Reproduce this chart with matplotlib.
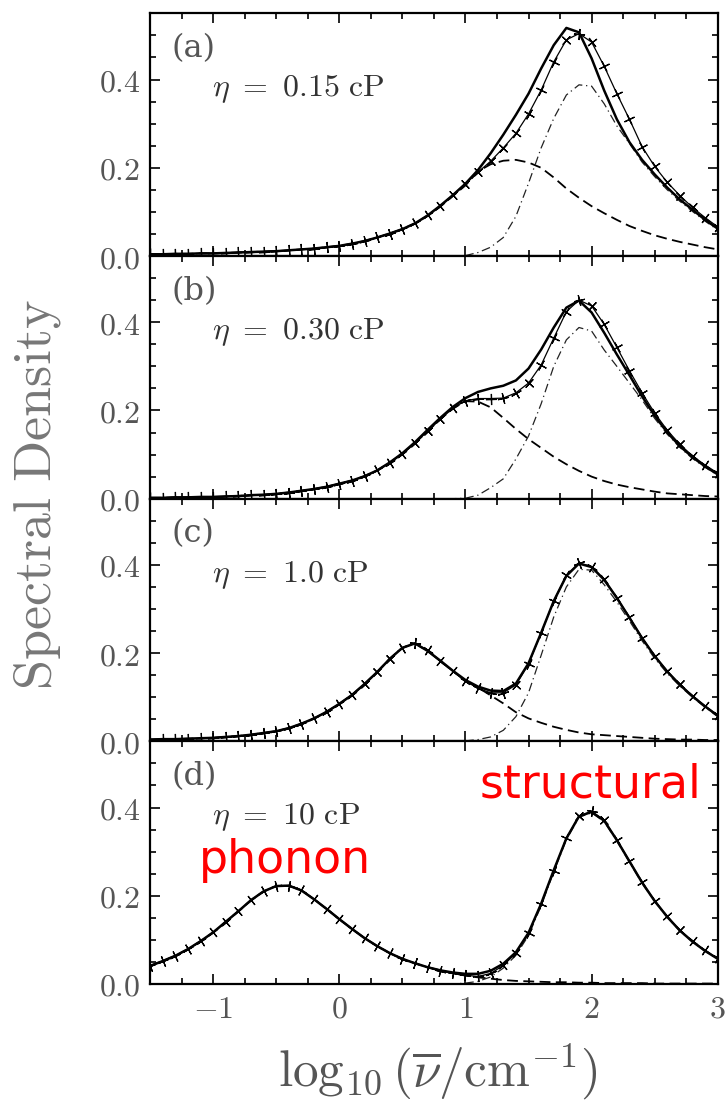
import numpy as np
import matplotlib
matplotlib.use("Agg")
import matplotlib.pyplot as plt
from matplotlib.ticker import MultipleLocator, FuncFormatter

# log10 of wavenumber, same grid for every curve (one "+" per point)
x = np.round(np.arange(-1.5, 3.001, 0.1), 2)

# (a) eta = 0.15 cP
total_a = [0.004, 0.004, 0.005, 0.005, 0.006, 0.006, 0.007, 0.008, 0.009, 0.010,
           0.011, 0.013, 0.015, 0.017, 0.020, 0.023, 0.028, 0.034, 0.042, 0.051,
           0.061, 0.074, 0.092, 0.114, 0.138, 0.164, 0.195, 0.233, 0.275, 0.320,
           0.368, 0.425, 0.478, 0.517, 0.507, 0.448, 0.375, 0.310, 0.258, 0.218,
           0.185, 0.155, 0.128, 0.105, 0.082, 0.062]
sim_a = [0.004, 0.004, 0.005, 0.005, 0.006, 0.006, 0.007, 0.008, 0.009, 0.010,
         0.011, 0.013, 0.015, 0.017, 0.020, 0.023, 0.028, 0.034, 0.042, 0.051,
         0.061, 0.074, 0.092, 0.114, 0.138, 0.164, 0.190, 0.215, 0.245, 0.278,
         0.322, 0.376, 0.440, 0.490, 0.504, 0.485, 0.430, 0.368, 0.310, 0.248,
         0.203, 0.167, 0.137, 0.110, 0.087, 0.066]
phonon_a = [0.004, 0.004, 0.005, 0.005, 0.006, 0.006, 0.007, 0.008, 0.009, 0.010,
            0.011, 0.013, 0.015, 0.017, 0.020, 0.023, 0.028, 0.034, 0.042, 0.051,
            0.061, 0.074, 0.091, 0.112, 0.136, 0.160, 0.192, 0.208, 0.216, 0.218,
            0.212, 0.200, 0.178, 0.153, 0.132, 0.113, 0.097, 0.082, 0.068, 0.057,
            0.047, 0.039, 0.032, 0.026, 0.020, 0.015]
struct_a = [0, 0, 0, 0, 0, 0, 0, 0, 0, 0,
            0, 0, 0, 0, 0, 0, 0, 0, 0, 0,
            0, 0, 0, 0, 0, 0.001, 0.008, 0.020, 0.042, 0.090,
            0.165, 0.245, 0.312, 0.365, 0.388, 0.385, 0.345, 0.295, 0.255, 0.213,
            0.180, 0.150, 0.124, 0.101, 0.079, 0.059]

# (b) eta = 0.30 cP
total_b = [0.002, 0.002, 0.003, 0.003, 0.004, 0.004, 0.005, 0.006, 0.008, 0.009,
           0.011, 0.014, 0.018, 0.022, 0.027, 0.034, 0.041, 0.051, 0.064, 0.082,
           0.103, 0.128, 0.156, 0.183, 0.208, 0.228, 0.242, 0.250, 0.256, 0.268,
           0.295, 0.338, 0.388, 0.433, 0.449, 0.422, 0.376, 0.327, 0.280, 0.232,
           0.188, 0.150, 0.119, 0.094, 0.073, 0.055]
sim_b = [0.002, 0.002, 0.003, 0.003, 0.004, 0.004, 0.005, 0.006, 0.008, 0.009,
         0.011, 0.014, 0.018, 0.022, 0.027, 0.034, 0.041, 0.051, 0.064, 0.082,
         0.102, 0.126, 0.153, 0.180, 0.205, 0.222, 0.227, 0.227, 0.228, 0.240,
         0.262, 0.303, 0.364, 0.424, 0.450, 0.437, 0.395, 0.343, 0.290, 0.240,
         0.194, 0.155, 0.123, 0.097, 0.076, 0.058]
phonon_b = [0.002, 0.002, 0.003, 0.003, 0.004, 0.004, 0.005, 0.006, 0.008, 0.009,
            0.011, 0.014, 0.018, 0.022, 0.027, 0.034, 0.041, 0.051, 0.064, 0.082,
            0.102, 0.126, 0.153, 0.180, 0.204, 0.221, 0.220, 0.207, 0.183, 0.158,
            0.135, 0.115, 0.095, 0.078, 0.063, 0.050, 0.040, 0.032, 0.026, 0.021,
            0.016, 0.012, 0.010, 0.008, 0.006, 0.005]
struct_b = [0, 0, 0, 0, 0, 0, 0, 0, 0, 0,
            0, 0, 0, 0, 0, 0, 0, 0, 0, 0,
            0, 0, 0, 0, 0, 0.001, 0.008, 0.025, 0.045, 0.090,
            0.142, 0.215, 0.300, 0.360, 0.388, 0.380, 0.337, 0.300, 0.262, 0.224,
            0.182, 0.146, 0.116, 0.091, 0.071, 0.053]

# (c) eta = 1.0 cP
total_c = [0.004, 0.005, 0.005, 0.006, 0.007, 0.008, 0.010, 0.012, 0.015, 0.019,
           0.023, 0.030, 0.040, 0.052, 0.067, 0.085, 0.105, 0.130, 0.157, 0.187,
           0.212, 0.222, 0.205, 0.183, 0.160, 0.139, 0.124, 0.115, 0.114, 0.131,
           0.177, 0.246, 0.318, 0.375, 0.403, 0.395, 0.366, 0.325, 0.280, 0.234,
           0.193, 0.158, 0.128, 0.102, 0.079, 0.058]
sim_c = [0.004, 0.005, 0.005, 0.006, 0.007, 0.008, 0.010, 0.012, 0.015, 0.019,
         0.023, 0.030, 0.040, 0.052, 0.067, 0.085, 0.105, 0.130, 0.157, 0.187,
         0.212, 0.222, 0.206, 0.183, 0.159, 0.137, 0.120, 0.110, 0.110, 0.128,
         0.175, 0.246, 0.318, 0.376, 0.404, 0.396, 0.367, 0.326, 0.281, 0.235,
         0.194, 0.159, 0.129, 0.103, 0.080, 0.059]
phonon_c = [0.004, 0.005, 0.005, 0.006, 0.007, 0.008, 0.010, 0.012, 0.015, 0.019,
            0.023, 0.030, 0.040, 0.052, 0.067, 0.085, 0.105, 0.130, 0.157, 0.187,
            0.212, 0.222, 0.205, 0.182, 0.159, 0.137, 0.122, 0.104, 0.086, 0.066,
            0.052, 0.042, 0.033, 0.026, 0.020, 0.016, 0.014, 0.012, 0.010, 0.008,
            0.006, 0.005, 0.004, 0.004, 0.003, 0.003]
struct_c = [0, 0, 0, 0, 0, 0, 0, 0, 0, 0,
            0, 0, 0, 0, 0, 0, 0, 0, 0, 0,
            0, 0, 0, 0, 0, 0.001, 0.004, 0.010, 0.025, 0.056,
            0.110, 0.195, 0.282, 0.350, 0.390, 0.388, 0.355, 0.316, 0.273, 0.228,
            0.188, 0.154, 0.125, 0.100, 0.077, 0.056]

# (d) eta = 10 cP
total_d = [0.041, 0.052, 0.064, 0.079, 0.097, 0.117, 0.141, 0.165, 0.190, 0.210,
           0.222, 0.223, 0.212, 0.192, 0.170, 0.147, 0.125, 0.104, 0.086, 0.070,
           0.057, 0.047, 0.038, 0.031, 0.026, 0.023, 0.023, 0.030, 0.046, 0.072,
           0.116, 0.182, 0.258, 0.330, 0.380, 0.390, 0.370, 0.326, 0.278, 0.230,
           0.188, 0.152, 0.121, 0.096, 0.075, 0.057]
sim_d = [0.041, 0.052, 0.064, 0.079, 0.097, 0.117, 0.141, 0.165, 0.190, 0.210,
         0.222, 0.223, 0.212, 0.192, 0.170, 0.147, 0.125, 0.104, 0.086, 0.070,
         0.057, 0.047, 0.038, 0.030, 0.024, 0.020, 0.017, 0.024, 0.042, 0.070,
         0.115, 0.181, 0.257, 0.330, 0.381, 0.391, 0.371, 0.327, 0.279, 0.231,
         0.189, 0.153, 0.122, 0.097, 0.076, 0.058]
phonon_d = [0.041, 0.052, 0.064, 0.079, 0.097, 0.117, 0.141, 0.165, 0.190, 0.210,
            0.222, 0.223, 0.212, 0.192, 0.170, 0.147, 0.125, 0.104, 0.086, 0.070,
            0.057, 0.047, 0.038, 0.031, 0.024, 0.019, 0.015, 0.012, 0.009, 0.007,
            0.006, 0.005, 0.004, 0.004, 0.003, 0.003, 0.002, 0.002, 0.002, 0.002,
            0.001, 0.001, 0.001, 0.001, 0.001, 0.001]
struct_d = [0, 0, 0, 0, 0, 0, 0, 0, 0, 0,
            0, 0, 0, 0, 0, 0, 0, 0, 0, 0,
            0, 0, 0, 0, 0, 0.002, 0.006, 0.016, 0.036, 0.065,
            0.110, 0.177, 0.254, 0.327, 0.378, 0.388, 0.368, 0.324, 0.276, 0.228,
            0.187, 0.151, 0.120, 0.095, 0.074, 0.056]

panel_tags = ["(a)", "(b)", "(c)", "(d)"]
viscosity = ["0.15", "0.30", "1.0", "10"]
totals = [total_a, total_b, total_c, total_d]
sims = [sim_a, sim_b, sim_c, sim_d]
phonons = [phonon_a, phonon_b, phonon_c, phonon_d]
structs = [struct_a, struct_b, struct_c, struct_d]

plt.rcParams["mathtext.fontset"] = "cm"
grey = "#555555"

fig, axes = plt.subplots(4, 1, sharex=True, figsize=(7.25, 11.14), dpi=100)
fig.subplots_adjust(left=0.207, right=0.990, bottom=0.1167, top=0.988, hspace=0)
fig.canvas.draw()

for i, ax in enumerate(axes):
    ax.set_xlim(-1.5, 3)
    ax.set_ylim(0, 0.55)

    ax.plot(x, phonons[i], color="k", lw=1.3, dashes=(6, 3))
    ax.plot(x, structs[i], color="#222222", lw=0.9, dashes=(7, 3, 1, 3))
    ax.plot(x, totals[i], color="k", lw=1.8)
    ax.plot(x, sims[i], color="k", lw=0.9)

    # "+" marks turned along the curve, like in the original figure
    pts = ax.transData.transform(np.column_stack([x, sims[i]]))
    slope = np.gradient(pts[:, 1], pts[:, 0])
    angles = np.degrees(np.arctan(slope))
    for xi, yi, a in zip(x, sims[i], angles):
        ax.plot(xi, yi, marker=(4, 2, a), ms=8, mew=0.9, color="k")

    ax.yaxis.set_major_locator(MultipleLocator(0.2))
    ax.yaxis.set_minor_locator(MultipleLocator(0.05))
    ax.xaxis.set_major_locator(MultipleLocator(1))
    ax.xaxis.set_minor_locator(MultipleLocator(0.25))
    ax.yaxis.set_major_formatter(FuncFormatter(lambda v, p: "$%.1f$" % v))
    ax.xaxis.set_major_formatter(FuncFormatter(lambda v, p: "$%d$" % round(v)))
    ax.tick_params(which="both", direction="in", top=True, right=True,
                   labelsize=23, labelcolor=grey, width=1.2, pad=7)
    ax.tick_params(which="major", length=7)
    ax.tick_params(which="minor", length=4)
    for s in ax.spines.values():
        s.set_linewidth(1.6)

    ax.text(-1.33, 0.47, panel_tags[i], fontsize=23, color=grey,
            family="DejaVu Serif", va="center")
    ax.text(-1.01, 0.362, r"$\eta\ =\ %s\ \mathrm{cP}$" % viscosity[i],
            fontsize=23, color="#333333", va="baseline")

# red annotations on the last panel
axes[3].text(-1.11, 0.252, "phonon", color="red", fontsize=33,
             family="DejaVu Sans", va="baseline")
axes[3].text(1.11, 0.423, "structural", color="red", fontsize=33,
             family="DejaVu Sans", va="baseline")

fig.text(37 / 725, 1 - 495 / 1114, r"$\mathrm{Spectral\ Density}$", rotation=90,
         fontsize=39, color="#777777", ha="center", va="center")
fig.text(438 / 725, 1 - 1072 / 1114, r"$\log_{10}(\overline{\nu}/\mathrm{cm}^{-1})$",
         fontsize=37, color="#555555", ha="center", va="center")

fig.savefig("out.png", dpi=100)
